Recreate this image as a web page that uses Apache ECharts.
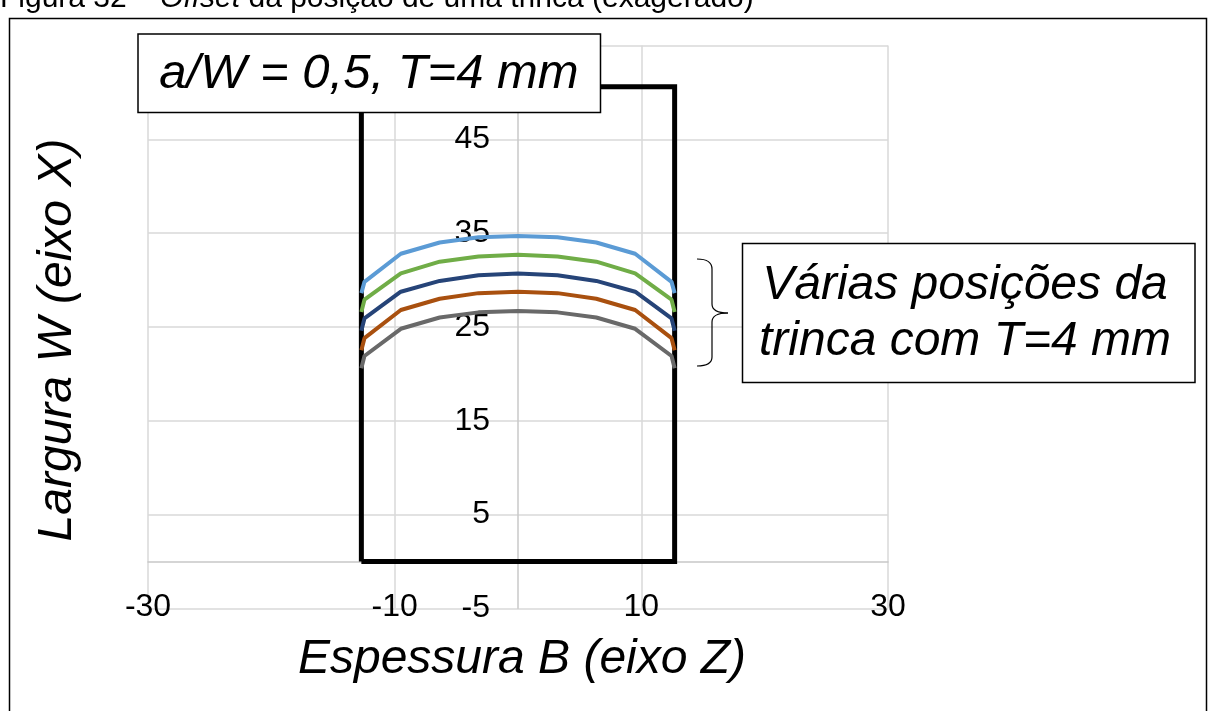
<!DOCTYPE html>
<html>
<head>
<meta charset="utf-8">
<script src="https://cdn.jsdelivr.net/npm/echarts@6/dist/echarts.min.js"></script>
<style>
html,body{margin:0;padding:0;background:#fff;}
#chart{width:1208px;height:711px;}
</style>
</head>
<body>
<div id="chart"></div>
<script>
// ---- data ----
const xTickLabels = ['-30', '-10', '10', '30'];
const yTickLabels = ['-5', '5', '15', '25', '35', '45'];
const crackX = [-12.7, -12.45, -9.5, -6.35, -3.2, 0, 3.2, 6.35, 9.5, 12.45, 12.7];
const blueW   = [28.6, 29.8, 32.8, 34.0, 34.55, 34.7, 34.55, 34.0, 32.8, 29.8, 28.6];
const greenW  = [26.6, 27.9, 30.7, 31.95, 32.5, 32.7, 32.5, 31.95, 30.7, 27.9, 26.6];
const navyW   = [24.6, 25.9, 28.75, 29.9, 30.5, 30.7, 30.5, 29.9, 28.75, 25.9, 24.6];
const orangeW = [22.5, 23.8, 26.8, 28.0, 28.6, 28.75, 28.6, 28.0, 26.8, 23.8, 22.5];
const grayW   = [20.6, 21.9, 24.8, 26.0, 26.55, 26.7, 26.55, 26.0, 24.8, 21.9, 20.6];
const specimenX = [-12.7, -12.7, 12.7, 12.7, -12.7];
const specimenY = [0, 50.6, 50.6, 0, 0];

const titleText = 'Figura 32 – ';
const titleItalic = 'Offset';
const titleRest = ' da posição de uma trinca (exagerado)';
const xTitle = 'Espessura B (eixo Z)';
const yTitle = 'Largura W (eixo X)';
const note1 = 'a/W = 0,5, T=4 mm';
const note2 = 'Várias posições da\ntrinca com T=4 mm';

const FONT = '"Liberation Sans", Arial, Helvetica, sans-serif';
const zip = (xs, ys) => xs.map((x, i) => [x, ys[i]]);

const curves = [
  {name: 'c1', data: blueW, color: '#5B9BD5'},
  {name: 'c2', data: greenW, color: '#70AD47'},
  {name: 'c3', data: navyW, color: '#264478'},
  {name: 'c4', data: orangeW, color: '#A9500F'},
  {name: 'c5', data: grayW, color: '#696969'}
];

// plot geometry
const GL = 148, GR = 320, GT = 45.5, GB = 102.7;
const X_MIN = -30, X_MAX = 30, Y_MIN = -5, Y_MAX = 55;
const plotW = 1208 - GL - GR, plotH = 711 - GT - GB;
// axes cross at zero: shift the axis lines inwards to the zero position
const yAxisOffset = -plotW * (0 - X_MIN) / (X_MAX - X_MIN);
const xAxisOffset = -plotH * (0 - Y_MIN) / (Y_MAX - Y_MIN);

const chart = echarts.init(document.getElementById('chart'), null, {renderer: 'canvas'});

const series = [{
  type: 'line', name: 'specimen',
  data: zip(specimenX, specimenY),
  showSymbol: false, symbol: 'none',
  lineStyle: {color: '#000', width: 5, join: 'miter'},
  z: 2, silent: true
}].concat(curves.map(c => ({
  type: 'line', name: c.name,
  data: zip(crackX, c.data),
  showSymbol: false, symbol: 'none',
  lineStyle: {color: c.color, width: 4},
  z: 3, silent: true
})));

const brace = [
  {type: 'bezierCurve', shape: {x1: 697, y1: 259, cpx1: 712, cpy1: 259, x2: 712, y2: 269}},
  {type: 'line', shape: {x1: 712, y1: 269, x2: 712, y2: 304}},
  {type: 'bezierCurve', shape: {x1: 712, y1: 304, cpx1: 712, cpy1: 313, x2: 728, y2: 313}},
  {type: 'bezierCurve', shape: {x1: 728, y1: 313, cpx1: 712, cpy1: 313, x2: 712, y2: 322}},
  {type: 'line', shape: {x1: 712, y1: 322, x2: 712, y2: 357}},
  {type: 'bezierCurve', shape: {x1: 712, y1: 357, cpx1: 712, cpy1: 366, x2: 697, y2: 366}}
].map(e => Object.assign(e, {style: {stroke: '#000', lineWidth: 1.2, fill: null}, z: 100, silent: true}));

const option = {
  animation: false,
  backgroundColor: '#fff',
  grid: {left: GL, right: GR, top: GT, bottom: GB, containLabel: false},
  xAxis: {
    type: 'value', min: X_MIN, max: X_MAX, interval: 20,
    position: 'bottom', offset: xAxisOffset,
    axisLine: {show: true, onZero: false, lineStyle: {color: '#C8C8C8', width: 1.5}},
    axisTick: {show: false},
    splitLine: {show: true, lineStyle: {color: '#D9D9D9', width: 1.5}},
    axisLabel: {
      fontSize: 32, color: '#000', fontFamily: FONT, margin: 30,
      formatter: v => xTickLabels.find(t => Number(t) === v) || ''
    }
  },
  yAxis: {
    type: 'value', min: Y_MIN, max: Y_MAX, interval: 10,
    position: 'left', offset: yAxisOffset,
    axisLine: {show: true, onZero: false, lineStyle: {color: '#C8C8C8', width: 1.5}},
    axisTick: {show: false},
    splitLine: {show: true, lineStyle: {color: '#D9D9D9', width: 1.5}},
    axisLabel: {
      fontSize: 32, color: '#000', fontFamily: FONT, margin: 28,
      formatter: v => yTickLabels.find(t => Number(t) === v) || ''
    }
  },
  series: series,
  graphic: [
    {type: 'rect', shape: {x: 9.5, y: 18.5, width: 1197, height: 720},
     style: {fill: null, stroke: '#000', lineWidth: 1.5}, z: 100, silent: true},
    {type: 'text', x: 0, y: -1, z: 100, silent: true,
     style: {
       text: '{a|' + titleText + '}{b|' + titleItalic + '}{a|' + titleRest + '}',
       align: 'left', verticalAlign: 'middle',
       rich: {
         a: {fontSize: 30, fontFamily: FONT, fill: '#000'},
         b: {fontSize: 30, fontFamily: FONT, fontStyle: 'italic', fill: '#000'}
       }
     }},
    {type: 'rect', shape: {x: 138, y: 34, width: 462.5, height: 78.5},
     style: {fill: '#fff', stroke: '#000', lineWidth: 1.5}, z: 100, silent: true},
    {type: 'text', x: 369, y: 74, z: 101, silent: true,
     style: {text: note1, fontSize: 49, fontStyle: 'italic', fontFamily: FONT,
             fill: '#000', align: 'center', verticalAlign: 'middle'}},
    {type: 'rect', shape: {x: 742.5, y: 243.5, width: 452.5, height: 139},
     style: {fill: '#fff', stroke: '#000', lineWidth: 1.5}, z: 100, silent: true},
    {type: 'text', x: 965, y: 314, z: 101, silent: true,
     style: {text: note2, fontSize: 48, lineHeight: 56, fontStyle: 'italic', fontFamily: FONT,
             fill: '#000', align: 'center', verticalAlign: 'middle'}},
    {type: 'text', x: 522, y: 660, z: 101, silent: true,
     style: {text: xTitle, fontSize: 48, fontStyle: 'italic', fontFamily: FONT,
             fill: '#000', align: 'center', verticalAlign: 'middle'}},
    {type: 'text', x: 58, y: 340, rotation: Math.PI / 2, z: 101, silent: true,
     style: {text: yTitle, fontSize: 48, fontStyle: 'italic', fontFamily: FONT,
             fill: '#000', align: 'center', verticalAlign: 'middle'}}
  ].concat(brace)
};

chart.setOption(option);
</script>
</body>
</html>
